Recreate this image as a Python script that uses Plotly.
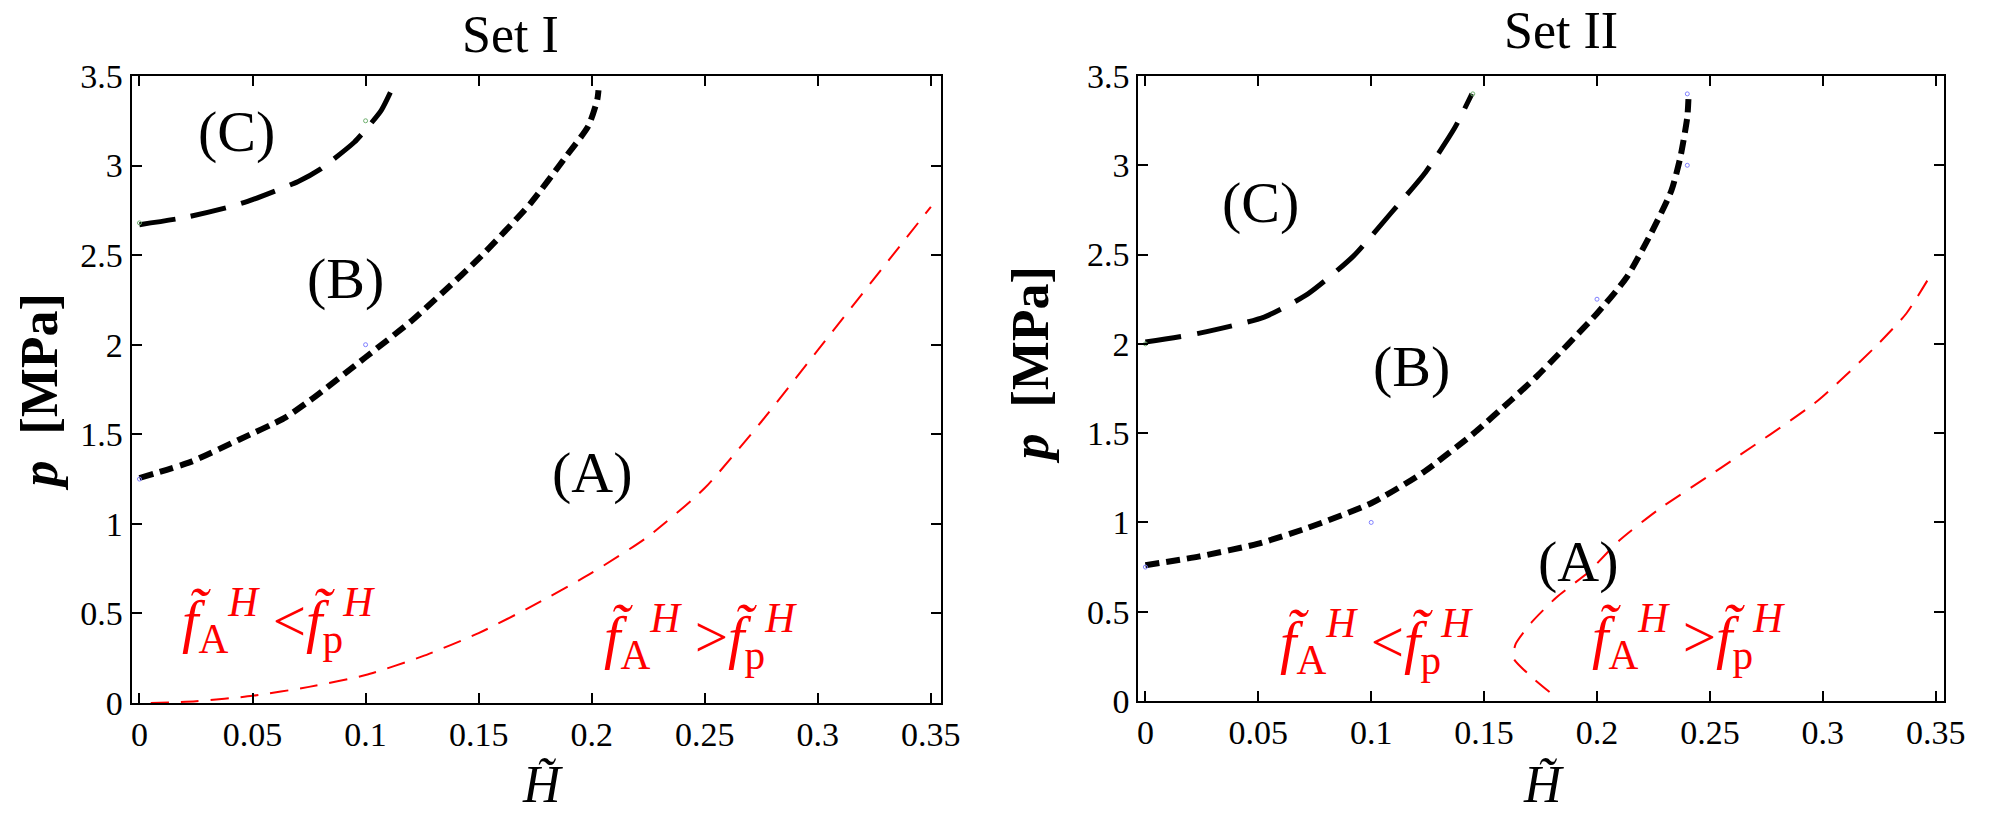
import plotly.graph_objects as go

# ---------------- data ----------------
x_tick_vals = [0, 0.05, 0.1, 0.15, 0.2, 0.25, 0.3, 0.35]
x_tick_text = ["0", "0.05", "0.1", "0.15", "0.2", "0.25", "0.3", "0.35"]
y_tick_vals = [0, 0.5, 1, 1.5, 2, 2.5, 3, 3.5]
y_tick_text = ["0", "0.5", "1", "1.5", "2", "2.5", "3", "3.5"]

# Set I
set1_C_x = [0, 0.02, 0.04, 0.05, 0.07, 0.08, 0.095, 0.10, 0.107, 0.1125]
set1_C_y = [2.67, 2.71, 2.77, 2.81, 2.91, 2.98, 3.13, 3.20, 3.31, 3.45]
set1_B_x = [0, 0.0227, 0.044, 0.064, 0.0755, 0.1, 0.12, 0.134, 0.15, 0.173, 0.1886, 0.1985, 0.2025, 0.2030]
set1_B_y = [1.256, 1.346, 1.47, 1.59, 1.69, 1.93, 2.13, 2.29, 2.48, 2.79, 3.05, 3.22, 3.37, 3.42]
set1_R_x = [0.005, 0.025, 0.05, 0.075, 0.1, 0.125, 0.15, 0.175, 0.2, 0.225, 0.25, 0.275, 0.3, 0.325, 0.35]
set1_R_y = [0.0, 0.01, 0.04, 0.09, 0.156, 0.26, 0.39, 0.55, 0.726, 0.93, 1.2, 1.57, 1.97, 2.37, 2.77]
set1_ptsB_x = [0, 0.1]
set1_ptsB_y = [1.25, 2.0]
set1_ptsC_x = [0, 0.1]
set1_ptsC_y = [2.68, 3.25]

# Set II
set2_C_x = [0, 0.024, 0.0526, 0.072, 0.092, 0.1086, 0.124, 0.137, 0.1446]
set2_C_y = [2.01, 2.06, 2.15, 2.28, 2.49, 2.73, 2.96, 3.21, 3.40]
set2_B_x = [0, 0.024, 0.0496, 0.072, 0.1004, 0.123, 0.1455, 0.162, 0.1735, 0.20, 0.213, 0.224, 0.233, 0.237, 0.240, 0.2405]
set2_B_y = [0.76, 0.81, 0.88, 0.97, 1.11, 1.28, 1.50, 1.685, 1.82, 2.17, 2.37, 2.62, 2.86, 3.05, 3.27, 3.37]
set2_R_x = [0.179, 0.171, 0.163, 0.164, 0.171, 0.182, 0.196, 0.210, 0.227, 0.2554, 0.2976, 0.323, 0.337, 0.348]
set2_R_y = [0.05, 0.135, 0.24, 0.32, 0.44, 0.58, 0.72, 0.90, 1.07, 1.31, 1.68, 1.98, 2.17, 2.39]
set2_ptsB_x = [0, 0.1, 0.2, 0.24, 0.24]
set2_ptsB_y = [0.75, 1.0, 2.25, 3.0, 3.4]
set2_ptsC_x = [0, 0.145]
set2_ptsC_y = [2.0, 3.4]

panel_titles = ["Set I", "Set II"]
region_labels = ["(A)", "(B)", "(C)"]

# ---------------- figure ----------------
FONT = "Liberation Serif"
W, H = 2009, 828
fig = go.Figure()


def line(x, y, xa, ya, color, width, dash):
    fig.add_trace(go.Scatter(x=x, y=y, xaxis=xa, yaxis=ya, mode="lines",
                             line=dict(color=color, width=width, dash=dash, shape="spline", smoothing=0.6),
                             hoverinfo="skip", showlegend=False))


def pts(x, y, xa, ya, color):
    fig.add_trace(go.Scatter(x=x, y=y, xaxis=xa, yaxis=ya, mode="markers",
                             marker=dict(symbol="circle-open", size=4, color=color, line=dict(width=1, color=color)),
                             hoverinfo="skip", showlegend=False))


line(set1_R_x, set1_R_y, "x", "y", "#ff0000", 2, "18px,12px")
line(set1_B_x, set1_B_y, "x", "y", "#000000", 6, "14px,7px")
line(set1_C_x, set1_C_y, "x", "y", "#000000", 5, "36px,16px")
pts(set1_ptsB_x, set1_ptsB_y, "x", "y", "#8080ff")
pts(set1_ptsC_x, set1_ptsC_y, "x", "y", "#70b070")

line(set2_R_x, set2_R_y, "x2", "y2", "#ff0000", 2, "18px,12px")
line(set2_B_x, set2_B_y, "x2", "y2", "#000000", 6, "14px,7px")
line(set2_C_x, set2_C_y, "x2", "y2", "#000000", 5, "36px,16px")
pts(set2_ptsB_x, set2_ptsB_y, "x2", "y2", "#8080ff")
pts(set2_ptsC_x, set2_ptsC_y, "x2", "y2", "#70b070")

axis_common = dict(showline=True, linecolor="black", linewidth=2, mirror="ticks",
                   ticks="inside", ticklen=10, tickwidth=2, tickcolor="black",
                   showgrid=False, zeroline=False,
                   tickfont=dict(family=FONT, size=34, color="black"))

fig.update_layout(
    width=W, height=H, autosize=False,
    margin=dict(l=0, r=0, t=76, b=125),
    paper_bgcolor="white", plot_bgcolor="white", showlegend=False,
    xaxis=dict(domain=[132 / W, 950 / W], range=[-0.0035, 0.3543], anchor="y",
               tickvals=x_tick_vals, ticktext=x_tick_text, **axis_common),
    yaxis=dict(domain=[0, 1], range=[0, 3.5], anchor="x",
               tickvals=y_tick_vals, ticktext=y_tick_text, **axis_common),
    xaxis2=dict(domain=[1150 / W, 1965 / W], range=[-0.0031, 0.3539], anchor="y2",
                tickvals=x_tick_vals, ticktext=x_tick_text, **axis_common),
    yaxis2=dict(domain=[2 / 627, 1], range=[0, 3.5], anchor="x2",
                tickvals=y_tick_vals, ticktext=y_tick_text, **axis_common),
)


def px_x(p):
    return p / W


def px_y(p):
    return (703 - p) / 627


ann = []
# panel titles
ann.append(dict(text=panel_titles[0], x=px_x(515), y=px_y(34), xref="paper", yref="paper",
                showarrow=False, xanchor="center", yanchor="middle", font=dict(family=FONT, size=52, color="black")))
ann.append(dict(text=panel_titles[1], x=px_x(1577), y=px_y(31), xref="paper", yref="paper",
                showarrow=False, xanchor="center", yanchor="middle", font=dict(family=FONT, size=52, color="black")))
# x titles
for cx in (547, 1560):
    ann.append(dict(text="<i>H\u0303</i>", x=px_x(cx), y=px_y(784), xref="paper", yref="paper",
                    showarrow=False, xanchor="center", yanchor="middle", font=dict(family=FONT, size=52, color="black")))
# y titles
for cx, cy in ((38, 392), (1040, 365)):
    ann.append(dict(text="<b><i>p</i>\u00a0\u00a0[MPa]</b>", x=px_x(cx), y=px_y(cy), xref="paper", yref="paper",
                    textangle=-90, showarrow=False, xanchor="center", yanchor="middle",
                    font=dict(family=FONT, size=52, color="black")))

# region labels (data coords)
reg = [("x", "y", 0.2003, 1.284, 0), ("x", "y", 0.091, 2.367, 1), ("x", "y", 0.0429, 3.19, 2),
       ("x2", "y2", 0.1918, 0.784, 0), ("x2", "y2", 0.1178, 1.876, 1), ("x2", "y2", 0.0508, 2.79, 2)]
for xr, yr, xx, yy, k in reg:
    ann.append(dict(text=region_labels[k], x=xx, y=yy, xref=xr, yref=yr, showarrow=False,
                    xanchor="center", yanchor="middle", font=dict(family=FONT, size=58, color="black")))

lt = "<i>f\u0303</i><sub>A</sub><sup><i>H</i></sup> &lt;<i>f\u0303</i><sub>p</sub><sup><i>H</i></sup>"
gt = "<i>f\u0303</i><sub>A</sub><sup><i>H</i></sup> &gt;<i>f\u0303</i><sub>p</sub><sup><i>H</i></sup>"
red = [("x", "y", 0.0617, 0.458, lt), ("x", "y", 0.248, 0.374, gt),
       ("x2", "y2", 0.1025, 0.336, lt), ("x2", "y2", 0.2405, 0.364, gt)]
for xr, yr, xx, yy, t in red:
    ann.append(dict(text=t, x=xx, y=yy, xref=xr, yref=yr, showarrow=False,
                    xanchor="center", yanchor="middle", font=dict(family=FONT, size=59, color="#ff0000")))

fig.update_layout(annotations=ann)
fig.write_html("out.html")
